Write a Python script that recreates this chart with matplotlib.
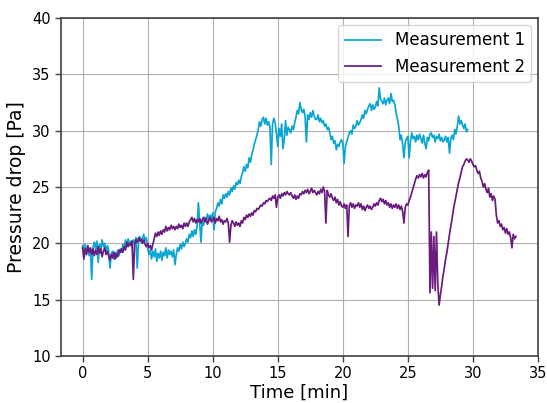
import numpy as np
import matplotlib
matplotlib.use("Agg")
import matplotlib.pyplot as plt

# Sampling interval of both logs [min]
dt = 0.1

# Measurement 1: pressure drop [Pa], one row per minute (10 samples each)
meas1 = [
    19.8, 19.3, 19.9, 19.1, 19.7, 18.9, 19.5, 16.8, 19.6, 20.1,
    19.5, 20.2, 18.3, 19.9, 19.4, 20.3, 19.7, 20.0, 19.2, 19.8,
    19.4, 17.8, 19.0, 19.3, 18.6, 19.2, 18.7, 19.4, 18.9, 19.5,
    19.2, 19.9, 19.5, 20.3, 19.7, 20.4, 19.9, 20.2, 19.6, 20.3,
    20.0, 20.5, 17.8, 20.2, 20.6, 20.1, 20.4, 20.8, 20.2, 20.5,
    19.6, 19.0, 19.4, 18.6, 19.3, 18.8, 19.5, 18.4, 19.1, 18.7,
    19.3, 18.5, 19.2, 18.9, 19.6, 18.7, 19.4, 19.0, 19.3, 18.8,
    19.4, 18.1, 19.0, 19.6, 19.3, 19.9, 19.5, 20.1, 19.7, 20.0,
    20.4, 20.1, 20.8, 20.5, 21.1, 20.6, 21.2, 20.8, 21.5, 23.6,
    21.8, 20.1, 22.0, 21.6, 22.3, 22.0, 22.6, 22.1, 22.5, 22.2,
    22.7, 21.2, 22.8, 23.1, 23.6, 23.3, 23.9, 23.5, 24.3, 24.0,
    24.4, 24.1, 24.6, 24.3, 24.9, 24.6, 25.1, 24.8, 25.4, 25.2,
    25.6, 25.3, 25.9, 26.3, 26.8, 26.4, 27.0, 26.7, 27.6, 27.2,
    27.9, 28.3, 28.8, 29.2, 29.6, 30.1, 30.8, 30.4, 31.0, 31.2,
    30.6, 31.1, 30.5, 30.8, 30.3, 27.0, 30.6, 31.1, 30.7, 29.8,
    28.6, 30.2, 29.5, 30.6, 28.4, 29.2, 30.9, 29.6, 30.3, 30.1,
    29.8, 30.4, 30.1, 30.7, 31.2, 31.8, 31.5, 32.5, 31.9, 31.6,
    31.9, 31.3, 29.0, 31.4, 31.0, 31.6, 31.2, 31.8, 31.3, 31.0,
    31.0, 31.4, 30.8, 31.1, 30.7, 30.9, 30.4, 30.6, 30.1, 30.3,
    29.8, 29.2, 29.5, 28.9, 29.1, 28.3, 28.8, 28.6, 29.0, 29.2,
    28.9, 27.1, 28.6, 29.0, 29.4, 29.8, 30.0, 29.7, 30.5, 30.2,
    30.4, 30.9, 30.5, 30.7, 31.0, 31.4, 31.1, 31.8, 31.5, 31.9,
    32.2, 32.4, 31.8, 32.3, 31.9, 32.1, 32.6, 32.2, 33.8, 32.8,
    32.6, 32.4, 32.9, 32.3, 32.7, 32.9, 32.4, 33.3, 32.6, 32.7,
    32.3, 31.6, 31.0, 30.4, 29.2, 29.6, 28.8, 27.6, 29.0, 29.3,
    29.5, 27.6, 29.1, 29.8, 29.3, 29.5, 29.0, 29.6, 29.2, 29.7,
    29.3, 28.9, 29.6, 28.9, 28.4, 29.4, 29.1, 29.7, 29.8, 29.4,
    29.6, 29.0, 29.5, 29.3, 29.7, 29.1, 29.4, 29.0, 29.2, 29.5,
    29.0, 29.4, 28.0, 29.3, 29.6, 29.2, 30.1, 29.7, 30.4, 31.3,
    30.6, 30.9, 30.5, 30.2, 30.6, 29.9, 30.1,
]

# Measurement 2: pressure drop [Pa], one row per minute (10 samples each)
meas2 = [
    19.6, 18.6, 19.5, 19.0, 19.8, 19.2, 19.6, 19.0, 19.5, 18.9,
    19.4, 19.0, 19.7, 19.1, 19.5, 18.8, 19.3, 19.6, 19.0, 19.3,
    18.9, 18.5, 19.0, 18.7, 19.2, 18.6, 19.1, 18.8, 19.4, 19.2,
    19.5, 19.2, 19.7, 19.4, 20.1, 19.7, 20.0, 19.8, 20.2, 16.8,
    19.9, 20.3, 20.1, 20.5, 20.2, 20.4, 20.0, 20.3, 19.9, 19.7,
    20.0, 19.6, 19.8, 19.4, 19.9, 20.4, 20.9, 20.6, 21.0, 20.7,
    21.1, 20.8, 21.2, 21.0, 21.5, 21.1, 21.4, 21.2, 21.6, 21.3,
    21.5, 21.2, 21.5, 21.3, 21.7, 21.4, 21.6, 21.3, 21.8, 21.5,
    21.8, 21.5, 21.9, 22.1, 22.3, 21.9, 22.2, 21.8, 22.1, 21.9,
    22.2, 21.8, 22.1, 22.3, 21.9, 22.2, 21.7, 22.0, 22.3, 21.9,
    22.1, 22.3, 21.8, 22.2, 22.0, 22.4, 21.9, 22.1, 21.7, 22.0,
    21.9, 22.2, 21.8, 20.1, 21.6, 22.0, 21.8, 21.5, 21.9, 21.6,
    21.8, 21.5, 22.0, 21.8, 22.3, 22.1, 22.5, 22.3, 22.6, 22.4,
    22.7, 22.5, 22.9, 22.8, 23.1, 23.0, 23.2, 23.4, 23.3, 23.6,
    23.5, 23.8, 23.7, 23.9, 24.0, 23.8, 24.2, 24.0, 24.3, 23.2,
    24.1, 24.3, 24.0, 24.4, 24.2, 24.5, 24.3, 24.6, 24.4, 24.3,
    24.5, 24.2, 24.0, 24.3, 23.9, 24.2, 24.0, 24.4, 24.3, 24.6,
    24.4, 24.7, 24.5, 24.8, 24.4, 24.6, 24.9, 24.5, 24.7, 24.5,
    24.3, 24.6, 24.4, 24.8, 24.5, 25.0, 24.6, 21.8, 24.7, 24.3,
    24.1, 24.4, 24.0, 23.8, 24.1, 23.6, 23.9, 23.4, 23.7, 23.3,
    23.2, 23.5, 23.1, 23.4, 20.6, 23.3, 23.6, 23.2, 23.5, 23.1,
    23.4, 23.3, 23.6, 23.2, 23.5, 23.0, 23.3, 22.9, 23.2, 23.4,
    23.1, 23.3, 23.0, 23.2, 23.5, 23.3, 23.6, 23.4, 23.8, 24.0,
    23.7, 23.9, 23.5, 23.8, 23.4, 23.6, 23.2, 23.5, 23.1, 23.4,
    23.2, 23.5, 23.1, 23.4, 23.0, 23.3, 22.8, 21.8, 23.2, 23.5,
    23.4, 23.8, 24.1, 24.5, 24.9, 25.3, 25.7, 26.0, 25.8, 26.1,
    25.9, 26.2, 25.8, 26.1, 25.9, 26.3, 26.5, 15.6, 21.0, 16.0,
    20.6, 15.8, 21.0, 16.4, 14.5, 15.4, 16.2, 17.1, 17.8, 18.6,
    19.2, 20.0, 20.8, 21.5, 22.2, 23.0, 23.6, 24.2, 24.8, 25.4,
    25.8, 26.3, 26.8, 27.0, 27.3, 27.5, 27.4, 27.2, 27.5, 27.3,
    27.0, 26.8, 26.9, 26.5, 26.2, 26.4, 25.8, 25.5, 25.0, 25.3,
    24.8, 24.5, 24.9, 24.1, 24.4, 23.8, 24.2, 23.9, 22.5, 21.8,
    22.0, 21.5, 21.7, 21.2, 21.4, 20.9, 21.3, 20.8, 21.0, 20.5,
    19.6, 20.8, 20.4, 20.6,
]

labels = ["Measurement 1", "Measurement 2"]
colors = ["#0aa6d3", "#6a1b7e"]

t1 = np.arange(len(meas1)) * dt
t2 = np.arange(len(meas2)) * dt

fig = plt.figure(figsize=(5.47, 4.03), dpi=100)
ax = fig.add_axes([0.1115, 0.117, 0.872, 0.838])

ax.plot(t1, meas1, color=colors[0], lw=1.25, label=labels[0])
ax.plot(t2, meas2, color=colors[1], lw=1.25, label=labels[1])

ax.set_xlim(-1.66, 35)
ax.set_ylim(10, 40)
ax.set_xticks(np.arange(0, 36, 5))
ax.set_yticks(np.arange(10, 41, 5))
ax.grid(True, color="#b0b0b0", lw=0.8)
ax.set_axisbelow(True)

for sp in ax.spines.values():
    sp.set_color("#404040")
    sp.set_linewidth(1.2)
ax.tick_params(labelsize=10.5, color="#404040", width=1.0, length=4)

ax.set_xlabel("Time [min]", fontsize=13, labelpad=1.5)
ax.set_ylabel("Pressure drop [Pa]", fontsize=13.5)
ax.legend(loc="upper right", fontsize=12, handlelength=2.2, borderaxespad=0.4)

fig.savefig("out.png", dpi=100)
